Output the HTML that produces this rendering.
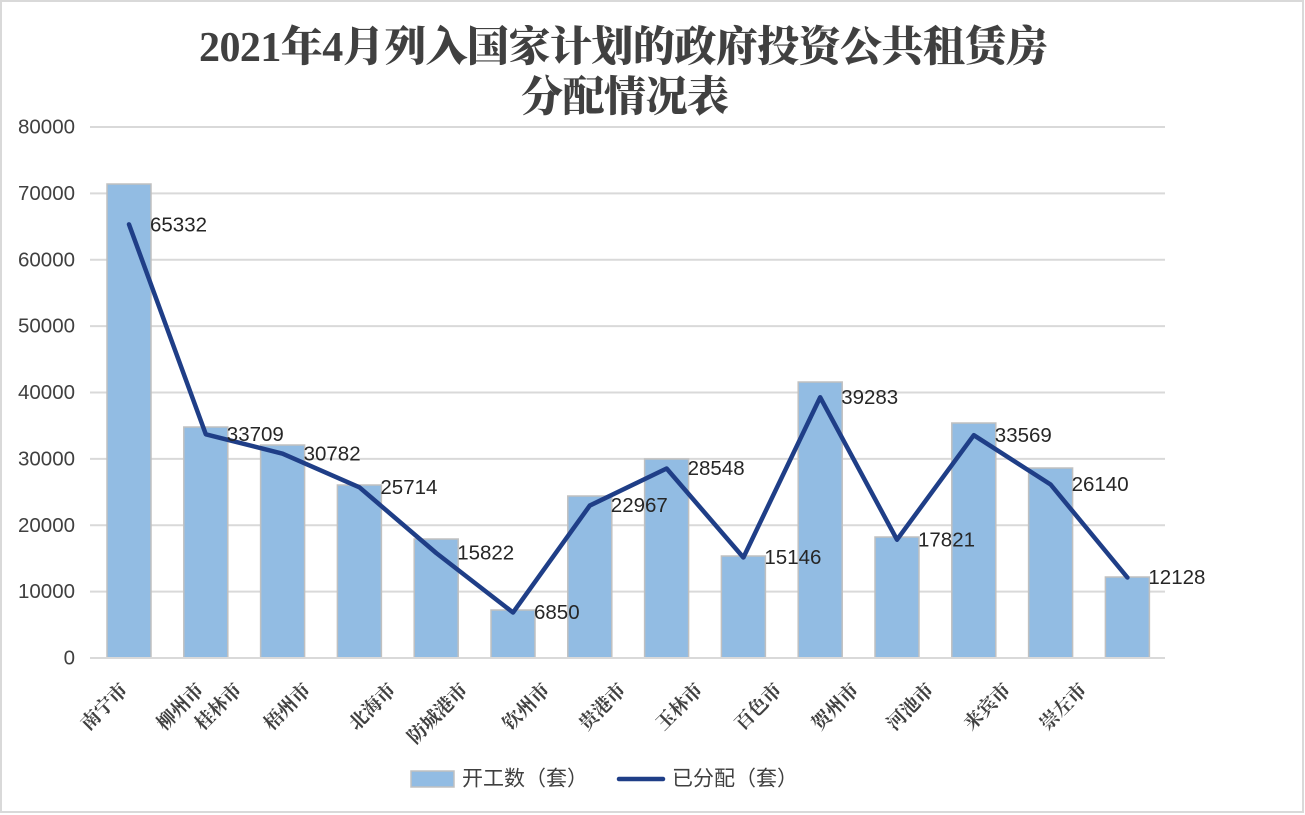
<!DOCTYPE html>
<html>
<head>
<meta charset="utf-8">
<style>
  html,body{margin:0;padding:0;background:#fff;}
  svg{display:block;}
  .ylab{font-family:"Liberation Sans","Noto Sans CJK SC",sans-serif;font-size:20.5px;fill:#404040;}
  .dlab{font-family:"Liberation Sans","Noto Sans CJK SC",sans-serif;font-size:20.5px;fill:#262626;}
  .xlab{font-family:"Liberation Serif","Noto Serif CJK SC",serif;font-size:19px;font-weight:700;fill:#404040;}
  .title{font-family:"Liberation Serif","Noto Serif CJK SC",serif;font-size:42px;font-weight:900;fill:#404040;}
  .leg{font-family:"Liberation Sans","Noto Sans CJK SC",sans-serif;font-size:21px;fill:#404040;}
</style>
</head>
<body>
<svg width="1305" height="815" viewBox="0 0 1305 815" xmlns="http://www.w3.org/2000/svg">
  <rect x="0" y="0" width="1305" height="815" fill="#fff"/>
  <rect x="1" y="1" width="1302" height="811" fill="none" stroke="#d9d9d9" stroke-width="2"/>

  <!-- Title -->
  <text class="title" x="199" y="61" textLength="849" lengthAdjust="spacing">2021年4月列入国家计划的政府投资公共租赁房</text>
  <text class="title" x="521" y="111" textLength="208" lengthAdjust="spacing">分配情况表</text>

  <!-- Gridlines -->
  <g stroke="#d9d9d9" stroke-width="2">
    <line x1="90" y1="127" x2="1165" y2="127"/>
    <line x1="90" y1="193.4" x2="1165" y2="193.4"/>
    <line x1="90" y1="259.75" x2="1165" y2="259.75"/>
    <line x1="90" y1="326.1" x2="1165" y2="326.1"/>
    <line x1="90" y1="392.5" x2="1165" y2="392.5"/>
    <line x1="90" y1="458.9" x2="1165" y2="458.9"/>
    <line x1="90" y1="525.25" x2="1165" y2="525.25"/>
    <line x1="90" y1="591.6" x2="1165" y2="591.6"/>
  </g>

  <!-- Y labels -->
  <g class="ylab" text-anchor="end" dominant-baseline="central">
    <text x="75" y="127">80000</text>
    <text x="75" y="193.4">70000</text>
    <text x="75" y="259.75">60000</text>
    <text x="75" y="326.1">50000</text>
    <text x="75" y="392.5">40000</text>
    <text x="75" y="458.9">30000</text>
    <text x="75" y="525.25">20000</text>
    <text x="75" y="591.6">10000</text>
    <text x="75" y="658">0</text>
  </g>

  <!-- Bars -->
  <g fill="#92bce3" stroke="#c0c0c0" stroke-width="1.5">
    <rect x="107" y="184" width="44" height="474"/>
    <rect x="183.8" y="427" width="44" height="231"/>
    <rect x="260.6" y="445" width="44" height="213"/>
    <rect x="337.4" y="485" width="44" height="173"/>
    <rect x="414.2" y="539" width="44" height="119"/>
    <rect x="491" y="610" width="44" height="48"/>
    <rect x="567.8" y="496" width="44" height="162"/>
    <rect x="644.6" y="459" width="44" height="199"/>
    <rect x="721.4" y="556" width="44" height="102"/>
    <rect x="798.2" y="382" width="44" height="276"/>
    <rect x="875" y="537" width="44" height="121"/>
    <rect x="951.8" y="423" width="44" height="235"/>
    <rect x="1028.6" y="468" width="44" height="190"/>
    <rect x="1105.4" y="577" width="44" height="81"/>
  </g>

  <!-- Zero axis -->
  <line x1="90" y1="658" x2="1165" y2="658" stroke="#d9d9d9" stroke-width="2"/>

  <!-- Line series -->
  <polyline fill="none" stroke="#1f3e87" stroke-width="4.5" stroke-linejoin="round" stroke-linecap="round"
    points="129,224.36 205.8,434.26 282.6,453.69 359.4,487.32 436.2,552.98 513,612.53 589.8,505.56 666.6,468.51 743.4,557.47 820.2,397.26 897,539.71 973.8,435.19 1050.6,484.5 1127.4,577.5"/>

  <!-- Data labels -->
  <g class="dlab" dominant-baseline="central">
    <text x="150" y="225">65332</text>
    <text x="226.8" y="434.5">33709</text>
    <text x="303.6" y="454">30782</text>
    <text x="380.4" y="487.5">25714</text>
    <text x="457.2" y="553">15822</text>
    <text x="534" y="612.5">6850</text>
    <text x="610.8" y="505.5">22967</text>
    <text x="687.6" y="468.5">28548</text>
    <text x="764.4" y="557.5">15146</text>
    <text x="841.2" y="397.5">39283</text>
    <text x="918" y="540">17821</text>
    <text x="994.8" y="435.5">33569</text>
    <text x="1071.6" y="484.5">26140</text>
    <text x="1148.4" y="577.5">12128</text>
  </g>

  <!-- X labels -->
  <g class="xlab" text-anchor="end">
    <text transform="translate(129,691) rotate(-45)">南宁市</text>
    <text transform="translate(205,691) rotate(-45)">柳州市</text>
    <text transform="translate(243,691) rotate(-45)">桂林市</text>
    <text transform="translate(312,691) rotate(-45)">梧州市</text>
    <text transform="translate(397,691) rotate(-45)">北海市</text>
    <text transform="translate(469,691) rotate(-45)">防城港市</text>
    <text transform="translate(551,691) rotate(-45)">钦州市</text>
    <text transform="translate(627,691) rotate(-45)">贵港市</text>
    <text transform="translate(704,691) rotate(-45)">玉林市</text>
    <text transform="translate(783,691) rotate(-45)">百色市</text>
    <text transform="translate(860,691) rotate(-45)">贺州市</text>
    <text transform="translate(935,691) rotate(-45)">河池市</text>
    <text transform="translate(1012,691) rotate(-45)">来宾市</text>
    <text transform="translate(1088,691) rotate(-45)">崇左市</text>
  </g>

  <!-- Legend -->
  <rect x="411" y="771" width="43" height="16" fill="#92bce3" stroke="#c0c0c0" stroke-width="1.5"/>
  <text class="leg" x="462" y="779" dominant-baseline="central">开工数（套）</text>
  <line x1="619" y1="779" x2="663" y2="779" stroke="#1f3e87" stroke-width="4.5" stroke-linecap="round"/>
  <text class="leg" x="672" y="779" dominant-baseline="central">已分配（套）</text>
</svg>
</body>
</html>
